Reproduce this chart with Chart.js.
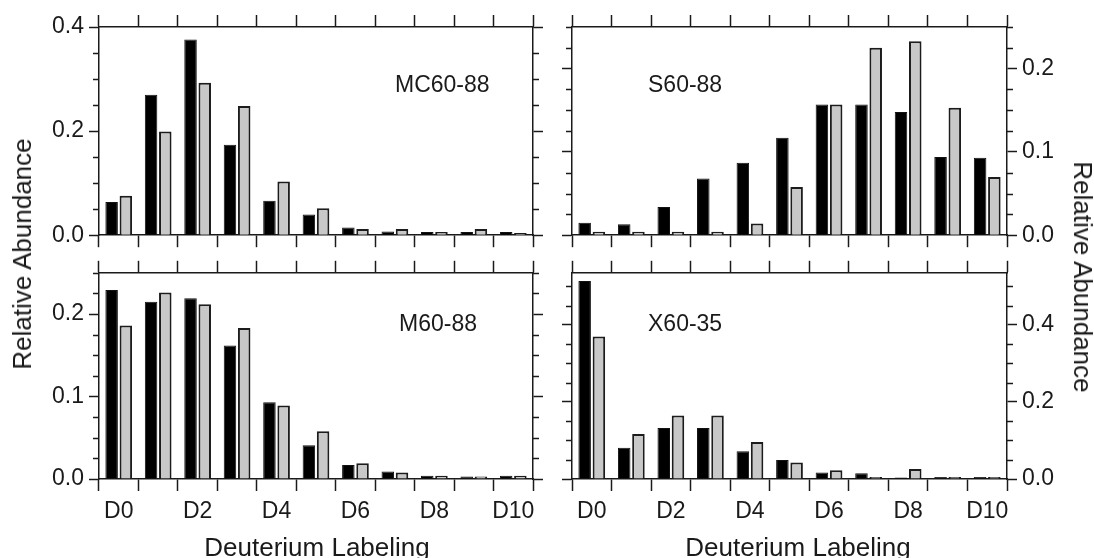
<!DOCTYPE html>
<html lang="en">
<head>
<meta charset="UTF-8">
<title>Deuterium Labeling</title>
<script src="https://cdn.jsdelivr.net/npm/chart.js"></script>
<style>
  body { margin: 0; background: #fff; font-family: "Liberation Sans", Arial, sans-serif; }
  .fig { position: relative; width: 1094px; height: 558px; overflow: hidden; background: #fff; }
  canvas { position: absolute; }
  .title { position: absolute; font-size: 26px; line-height: 1; color: #1a1a1a; white-space: nowrap; }
</style>
</head>
<body>
<div class="fig">
  <canvas id="tl" width="552" height="254" style="left:0px;top:0px"></canvas>
  <canvas id="tr" width="542" height="254" style="left:552px;top:0px"></canvas>
  <canvas id="bl" width="552" height="304" style="left:0px;top:254px"></canvas>
  <canvas id="br" width="542" height="304" style="left:552px;top:254px"></canvas>

  <div class="title" style="left:22px;top:254px;transform:translate(-50%,-50%) rotate(-90deg)">Relative Abundance</div>
  <div class="title" style="left:1083px;top:277px;transform:translate(-50%,-50%) rotate(90deg)">Relative Abundance</div>
  <div class="title" style="left:317px;top:547px;transform:translate(-50%,-50%)">Deuterium Labeling</div>
  <div class="title" style="left:798px;top:547px;transform:translate(-50%,-50%)">Deuterium Labeling</div>
</div>

<script>
    const categories = ['D0', 'D1', 'D2', 'D3', 'D4', 'D5', 'D6', 'D7', 'D8', 'D9', 'D10'];

    // MC60-88
    const mcBlack = [0.064, 0.270, 0.376, 0.174, 0.066, 0.040, 0.015, 0.007, 0.006, 0.006, 0.006];
    const mcGray  = [0.076, 0.199, 0.293, 0.248, 0.103, 0.052, 0.012, 0.012, 0.006, 0.012, 0.004];
    // S60-88
    const sBlack = [0.015, 0.013, 0.034, 0.068, 0.087, 0.117, 0.157, 0.157, 0.148, 0.094, 0.093];
    const sGray  = [0.004, 0.004, 0.004, 0.004, 0.014, 0.058, 0.157, 0.225, 0.233, 0.153, 0.070];
    // M60-88
    const mBlack = [0.229, 0.215, 0.219, 0.162, 0.093, 0.041, 0.017, 0.009, 0.004, 0.003, 0.004];
    const mGray  = [0.186, 0.226, 0.212, 0.183, 0.089, 0.058, 0.019, 0.008, 0.004, 0.003, 0.004];
    // X60-35
    const xBlack = [0.514, 0.081, 0.132, 0.132, 0.072, 0.049, 0.017, 0.015, 0.004, 0.005, 0.005];
    const xGray  = [0.370, 0.117, 0.165, 0.165, 0.096, 0.043, 0.023, 0.005, 0.026, 0.005, 0.005];

    const font = '"Liberation Sans", Arial, sans-serif';
    const ink = '#1a1a1a';

    // short ticks between the labelled ones, on both sides of the frame
    const extras = {
        id: 'extras',
        afterDraw(chart, args, opts) {
            const ctx = chart.ctx;
            const area = chart.chartArea;
            const y = chart.scales.y;
            ctx.save();
            ctx.strokeStyle = ink;
            ctx.lineWidth = 1.5;
            for (let i = 1; i * opts.minor <= opts.max + 1e-9; i++) {
                const v = i * opts.minor;
                if (Math.abs(v / opts.major - Math.round(v / opts.major)) < 1e-6) continue;
                const py = Math.round(y.getPixelForValue(v)) + 0.5;
                ctx.beginPath();
                ctx.moveTo(area.left - 6, py);
                ctx.lineTo(area.left, py);
                ctx.moveTo(area.right, py);
                ctx.lineTo(area.right + 6, py);
                ctx.stroke();
            }
            ctx.fillStyle = ink;
            ctx.font = '23px ' + font;
            ctx.textBaseline = 'alphabetic';
            ctx.fillText(opts.label, opts.lx, opts.ly);
            ctx.restore();
        }
    };

    function panel(id, black, gray, p) {
        const other = p.side === 'left' ? 'right' : 'left';
        const sideW = { left: p.left, right: p.right };
        new Chart(document.getElementById(id), {
            type: 'bar',
            data: {
                labels: categories,
                datasets: [
                    {
                        data: black,
                        backgroundColor: '#000',
                        borderColor: '#111',
                        borderWidth: 1
                    },
                    {
                        data: gray,
                        backgroundColor: '#c8c8c8',
                        borderColor: '#1c1c1c',
                        borderWidth: 2
                    }
                ]
            },
            options: {
                responsive: false,
                animation: false,
                events: [],
                layout: { padding: 0 },
                categoryPercentage: 0.72,
                barPercentage: 0.88,
                plugins: {
                    legend: { display: false },
                    tooltip: { enabled: false },
                    extras: { max: p.max, major: p.major, minor: p.minor, label: p.label, lx: p.lx, ly: p.ly }
                },
                scales: {
                    x: {
                        position: 'bottom',
                        offset: true,
                        grid: { offset: true, drawOnChartArea: false, tickLength: 12, tickColor: ink, tickWidth: 1.5 },
                        border: { color: ink, width: 1.5 },
                        ticks: {
                            display: p.showX,
                            autoSkip: false,
                            maxRotation: 0,
                            minRotation: 0,
                            padding: 7,
                            color: ink,
                            font: { family: font, size: 23 },
                            callback: (v, i) => i % 2 === 0 ? categories[i] : ''
                        },
                        afterFit: s => { s.height = p.bottom; }
                    },
                    x2: {
                        type: 'category',
                        position: 'top',
                        offset: true,
                        grid: { offset: true, drawOnChartArea: false, tickLength: 12, tickColor: ink, tickWidth: 1.5 },
                        border: { color: ink, width: 1.5 },
                        ticks: { display: false, autoSkip: false },
                        afterFit: s => { s.height = p.top; }
                    },
                    y: {
                        position: p.side,
                        min: 0,
                        max: p.max,
                        grid: { drawOnChartArea: false, tickLength: 10, tickColor: ink, tickWidth: 1.5 },
                        border: { color: ink, width: 1.5 },
                        ticks: {
                            stepSize: p.major,
                            includeBounds: false,
                            padding: 5,
                            color: ink,
                            font: { family: font, size: 23 },
                            callback: v => v.toFixed(1)
                        },
                        afterFit: s => { s.width = sideW[p.side]; }
                    },
                    y2: {
                        position: other,
                        min: 0,
                        max: p.max,
                        grid: { drawOnChartArea: false, tickLength: 10, tickColor: ink, tickWidth: 1.5 },
                        border: { color: ink, width: 1.5 },
                        ticks: { display: false, stepSize: p.major, includeBounds: false },
                        afterFit: s => { s.width = sideW[other]; }
                    }
                }
            },
            plugins: [extras]
        });
    }

    panel('tl', mcBlack, mcGray, {
        side: 'left', max: 0.4, major: 0.2, minor: 0.05,
        left: 99, right: 19, top: 27, bottom: 17, showX: false,
        label: 'MC60-88', lx: 395, ly: 92
    });
    panel('tr', sBlack, sGray, {
        side: 'right', max: 0.25, major: 0.1, minor: 0.025,
        left: 20, right: 87, top: 27, bottom: 17, showX: false,
        label: 'S60-88', lx: 96, ly: 92
    });
    panel('bl', mBlack, mGray, {
        side: 'left', max: 0.25, major: 0.1, minor: 0.025,
        left: 99, right: 19, top: 17, bottom: 79, showX: true,
        label: 'M60-88', lx: 399, ly: 77
    });
    panel('br', xBlack, xGray, {
        side: 'right', max: 0.535, major: 0.2, minor: 0.05,
        left: 20, right: 87, top: 17, bottom: 79, showX: true,
        label: 'X60-35', lx: 96, ly: 77
    });
</script>
</body>
</html>
